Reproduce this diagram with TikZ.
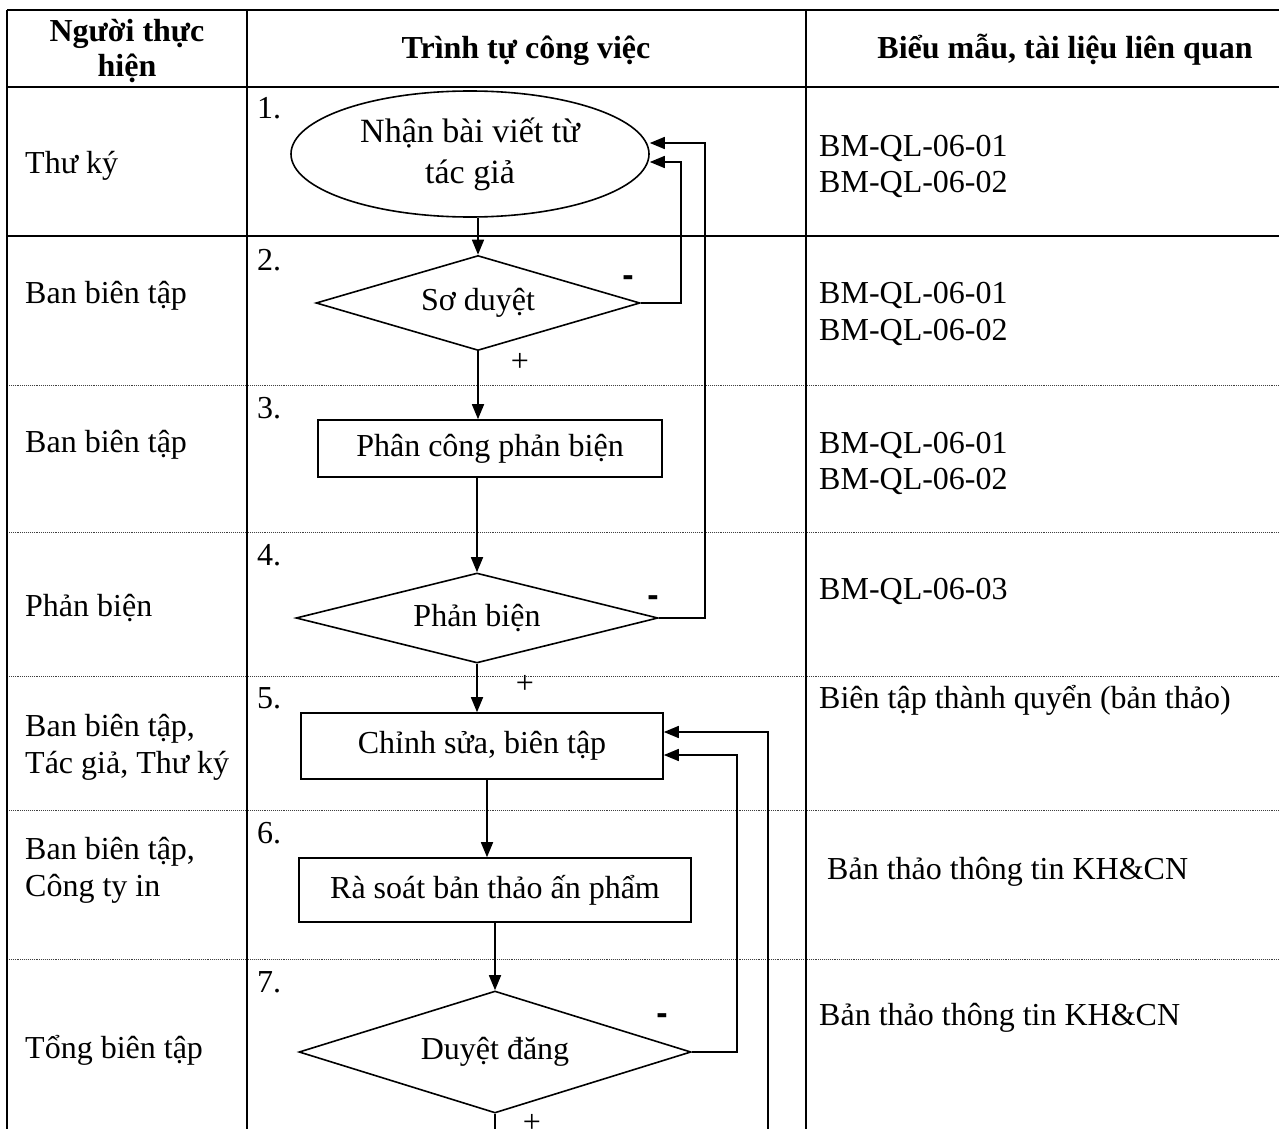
\documentclass[tikz,border=0pt]{standalone}
\usepackage{fontspec}
\setmainfont{Liberation Serif}
\newfontfamily\signfont{Liberation Sans}
\usetikzlibrary{shapes.geometric,arrows.meta}
\begin{document}
\begin{tikzpicture}[x=1pt,y=-1pt,
  every node/.style={font=\fontsize{32}{37}\selectfont},
  shapebox/.style={draw, line width=1.6pt, inner sep=0pt},
  rectbox/.style={shapebox, rectangle},
  dia/.style={shapebox, diamond, aspect=4},
  arr/.style={line width=1.6pt, -{Triangle[length=15pt,width=12pt]}},
  ln/.style={line width=1.6pt},
  solidrule/.style={line width=1.8pt},
  dotrule/.style={line width=0.9pt, densely dotted, black!75},
  lab/.style={anchor=base west, inner sep=0pt},
  num/.style={anchor=west, inner sep=0pt},
  head/.style={anchor=base, inner sep=0pt, font=\fontsize{32}{37}\selectfont\bfseries},
  sign/.style={inner sep=0pt, anchor=center},
  minus/.style={sign, font=\fontsize{34}{37}\selectfont\signfont\bfseries}]
\useasboundingbox (0,0) rectangle (1279,1129);

% table rules
\draw[solidrule] (7,10) -- (1279,10);
\draw[solidrule] (7,87) -- (1279,87);
\draw[solidrule] (7,236) -- (1279,236);
\foreach \yy in {385,532,676,810,959} \draw[dotrule] (7,\yy) -- (1279,\yy);
\foreach \xx in {7,247,806} \draw[solidrule] (\xx,10) -- (\xx,1129);

% header
\node[head] (h1a) at (127,42) {Người thực};
\node[head] (h1b) at (127,77) {hiện};
\node[head] (h2) at (526,59) {Trình tự công việc};
\node[head] (h3) at (1065,59) {Biểu mẫu, tài liệu liên quan};

% column 1
\node[lab] (p1) at (25,173) {Thư ký};
\node[lab] (p2) at (25,303) {Ban biên tập};
\node[lab] (p3) at (25,452) {Ban biên tập};
\node[lab] (p4) at (25,616) {Phản biện};
\node[lab] (p5a) at (25,736) {Ban biên tập,};
\node[lab] (p5b) at (25,773) {Tác giả, Thư ký};
\node[lab] (p6a) at (25,859) {Ban biên tập,};
\node[lab] (p6b) at (25,896) {Công ty in};
\node[lab] (p7) at (25,1058) {Tổng biên tập};

% column 3
\node[lab] (f1a) at (819,156) {BM-QL-06-01};
\node[lab] (f1b) at (819,192) {BM-QL-06-02};
\node[lab] (f2a) at (819,303) {BM-QL-06-01};
\node[lab] (f2b) at (819,340) {BM-QL-06-02};
\node[lab] (f3a) at (819,453) {BM-QL-06-01};
\node[lab] (f3b) at (819,489) {BM-QL-06-02};
\node[lab] (f4) at (819,599) {BM-QL-06-03};
\node[lab] (f5) at (819,708) {Biên tập thành quyển (bản thảo)};
\node[lab] (f6) at (827,879) {Bản thảo thông tin KH\&CN};
\node[lab] (f7) at (819,1025) {Bản thảo thông tin KH\&CN};

% step numbers
\node[num] (s1) at (257,108) {1.};
\node[num] (s2) at (257,260) {2.};
\node[num] (s3) at (257,408) {3.};
\node[num] (s4) at (257,555) {4.};
\node[num] (s5) at (257,698) {5.};
\node[num] (s6) at (257,833) {6.};
\node[num] (s7) at (257,982) {7.};

% shapes
\node[shapebox, ellipse, minimum width=358pt, minimum height=126pt, align=center,
      font=\fontsize{34}{41}\selectfont] (e1) at (470,154) {Nhận bài viết từ\\tác giả};
\node[dia, minimum width=324pt, minimum height=95pt] (d2) at (478,303) {Sơ duyệt};
\node[rectbox, minimum width=344pt, minimum height=57pt] (r3) at (490,448.5) {Phân công phản biện};
\node[dia, minimum width=362pt, minimum height=90pt] (d4) at (477,618) {Phản biện};
\node[rectbox, minimum width=362pt, minimum height=66pt] (r5) at (482,746) {Chỉnh sửa, biên tập};
\node[rectbox, minimum width=392pt, minimum height=64pt] (r6) at (495,890) {Rà soát bản thảo ấn phẩm};
\node[dia, minimum width=392pt, minimum height=122pt] (d7) at (495,1052) {Duyệt đăng};

% main flow
\draw[arr] (e1.south -| d2.north) -- (d2.north);
\draw[arr] (d2.south) -- (d2.south |- r3.north);
\draw[arr] (r3.south -| d4.north) -- (d4.north);
\draw[arr] (d4.south) -- (d4.south |- r5.north);
\draw[arr] ([xshift=5pt]r5.south) -- ([xshift=5pt]r5.south |- r6.north);
\draw[arr] (r6.south -| d7.north) -- (d7.north);
\coordinate (bot7) at (495,1129);
\draw[ln] (d7.south) -- (bot7);

% feedback loops
\coordinate (k1) at (681,162);
\draw[arr] (d2.east) -| (k1) -- (k1 -| e1.east);
\coordinate (k2) at (705,143);
\draw[arr] (d4.east) -| (k2) -- (k2 -| e1.east);
\coordinate (k3) at (737,755);
\draw[arr] (d7.east) -| (k3) -- (k3 -| r5.east);
\coordinate (k4) at (768,732);
\coordinate (k4b) at (768,1129);
\draw[arr] (k4b) -- (k4) -- (k4 -| r5.east);

% signs
\node[minus] (m2) at (628,281) {-};
\node[sign] (q2) at (520,362) {+};
\node[minus] (m4) at (653,601) {-};
\node[sign] (q4) at (525,684) {+};
\node[minus] (m7) at (662,1019) {-};
\node[sign] (q7) at (532,1123) {+};
\end{tikzpicture}
\end{document}
